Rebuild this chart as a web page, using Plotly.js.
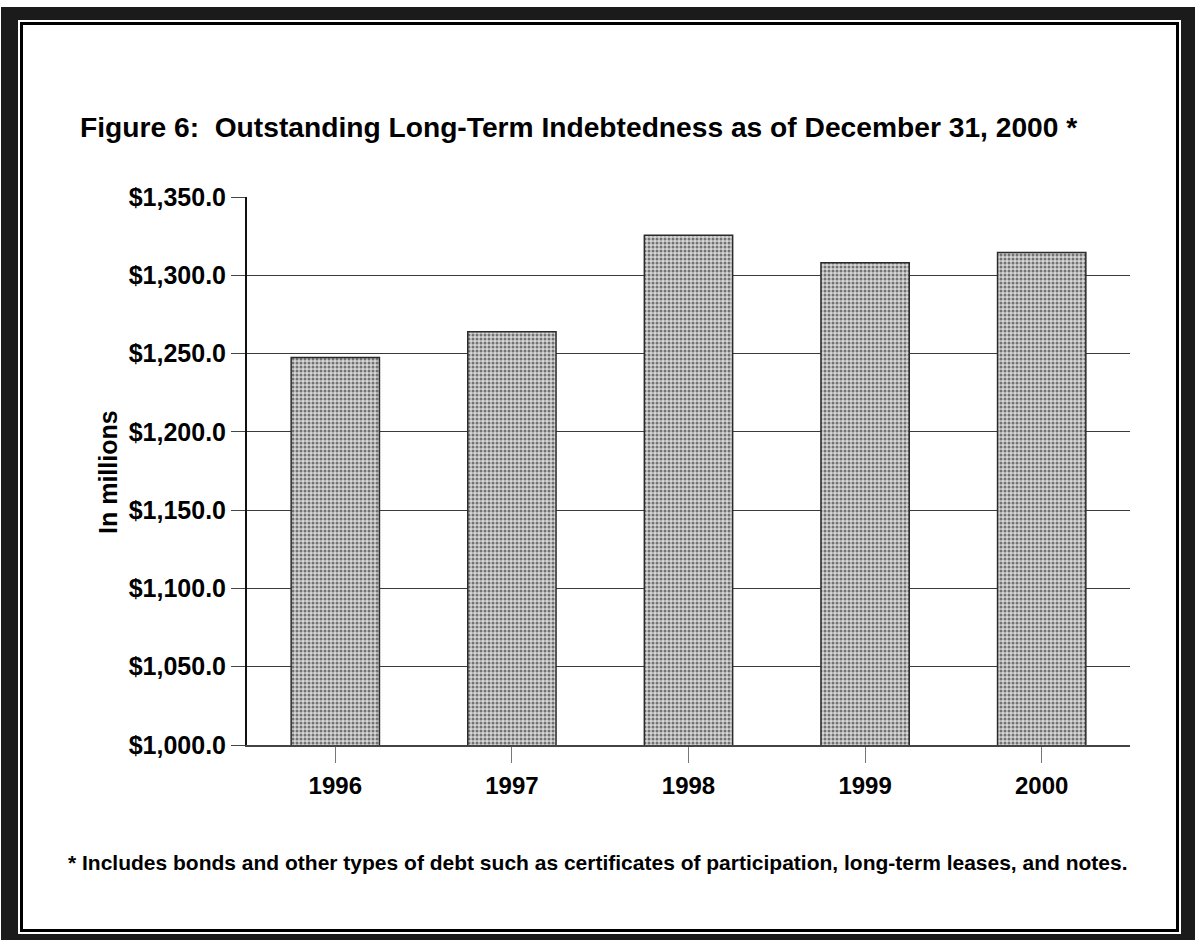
<!DOCTYPE html>
<html>
<head>
<meta charset="utf-8">
<script src="https://cdn.plot.ly/plotly-3.0.1.min.js"></script>
<style>
  html, body { margin: 0; padding: 0; background: #ffffff; }
  #chart { width: 1195px; height: 940px; }
</style>
</head>
<body>
<div id="chart"></div>
<script>
// Outstanding long-term indebtedness, in millions of dollars
const years = ['1996', '1997', '1998', '1999', '2000'];
const debtMillions = [1247.5, 1264, 1325.5, 1308, 1314.5];

const titleText = 'Figure 6:  Outstanding Long-Term Indebtedness as of December 31, 2000 *';
const yTitleText = 'In millions';
const footnoteText = '* Includes bonds and other types of debt such as certificates of participation, long-term leases, and notes.';

// Page geometry (pixels)
const W = 1195, H = 940;
const plotLeft = 247, plotRight = 1130, plotTop = 197, plotBottom = 745;
const plotW = plotRight - plotLeft, plotH = plotBottom - plotTop;

// pixel -> paper coordinate helpers
const px = x => (x - plotLeft) / plotW;
const py = y => (plotBottom - y) / plotH;

const FONT = 'Liberation Sans, Arial, Helvetica, sans-serif';

const trace = {
  type: 'bar',
  x: years,
  y: debtMillions,
  width: 0.5,
  marker: {
    color: '#bdbdbd',
    line: { color: '#2b2b2b', width: 1.5 },
    pattern: { shape: '.', fgcolor: '#727272', bgcolor: '#d6d6d6', size: 4, solidity: 0.45 }
  },
  hoverinfo: 'x+y'
};

// Frame: dark scanned border, thin white gap, black rule
const frameShapes = [
  { type: 'rect', xref: 'paper', yref: 'paper', layer: 'below',
    x0: px(1), x1: px(W + 2), y0: py(7), y1: py(H + 2),
    fillcolor: '#1b1b1b', line: { width: 0 } },
  { type: 'rect', xref: 'paper', yref: 'paper', layer: 'below',
    x0: px(18), x1: px(1181), y0: py(20), y1: py(934),
    fillcolor: '#ffffff', line: { width: 0 } },
  { type: 'rect', xref: 'paper', yref: 'paper', layer: 'below',
    x0: px(21.5), x1: px(1177.5), y0: py(23.5), y1: py(930.5),
    fillcolor: '#ffffff', line: { color: '#000000', width: 3 } }
];

const layout = {
  width: W,
  height: H,
  margin: { l: plotLeft, r: W - plotRight, t: plotTop, b: H - plotBottom, pad: 0 },
  paper_bgcolor: '#ffffff',
  plot_bgcolor: 'rgba(0,0,0,0)',
  showlegend: false,
  font: { family: FONT, color: '#000000' },
  title: {
    text: '<b>' + titleText + '</b>',
    font: { family: FONT, size: 28.2, color: '#000000' },
    xref: 'container', yref: 'container',
    x: 80 / W, xanchor: 'left',
    y: 1 - 127 / H, yanchor: 'middle'
  },
  xaxis: {
    type: 'category',
    showline: true, linecolor: '#444444', linewidth: 1.5,
    ticks: 'outside', ticklen: 16, tickcolor: '#777777', tickwidth: 1,
    ticklabelstandoff: 3,
    tickfont: { family: FONT, size: 24, color: '#000000' },
    tickprefix: '<b>', ticksuffix: '</b>',
    showgrid: false,
    fixedrange: true
  },
  yaxis: {
    range: [1000, 1350],
    dtick: 50,
    tick0: 1000,
    tickformat: '$,.1f',
    tickprefix: '<b>', ticksuffix: '</b>',
    tickfont: { family: FONT, size: 25, color: '#000000' },
    showline: true, linecolor: '#111111', linewidth: 2,
    ticks: 'outside', ticklen: 14, tickcolor: '#444444', tickwidth: 1,
    ticklabelstandoff: 0,
    showgrid: true, gridcolor: '#3a3a3a', gridwidth: 1.2,
    zeroline: false,
    fixedrange: true
  },
  shapes: frameShapes,
  annotations: [
    {
      // vertical axis caption
      text: '<b>' + yTitleText + '</b>',
      xref: 'paper', yref: 'paper',
      x: px(108), xanchor: 'center',
      y: py(472), yanchor: 'middle',
      textangle: -90,
      showarrow: false,
      font: { family: FONT, size: 25, color: '#000000' }
    },
    {
      text: '<b>' + footnoteText + '</b>',
      xref: 'paper', yref: 'paper',
      x: px(66), xanchor: 'left',
      y: py(862), yanchor: 'middle',
      showarrow: false,
      font: { family: FONT, size: 21, color: '#000000' }
    }
  ]
};

Plotly.newPlot('chart', [trace], layout, { displayModeBar: false, staticPlot: true });
</script>
</body>
</html>
